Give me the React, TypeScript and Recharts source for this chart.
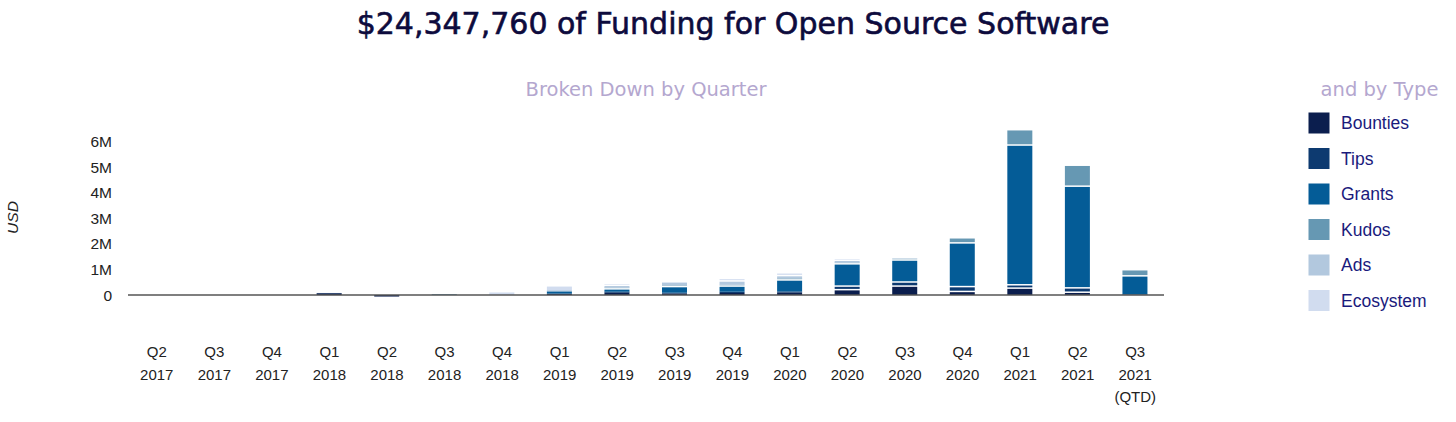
import React from 'react';
import { BarChart, Bar, XAxis, YAxis, ReferenceLine } from 'recharts';

const quarters = ['Q2', 'Q3', 'Q4', 'Q1', 'Q2', 'Q3', 'Q4', 'Q1', 'Q2', 'Q3', 'Q4', 'Q1', 'Q2', 'Q3', 'Q4', 'Q1', 'Q2', 'Q3'];
const years = ['2017', '2017', '2017', '2018', '2018', '2018', '2018', '2019', '2019', '2019', '2019', '2020', '2020', '2020', '2020', '2021', '2021', '2021'];
const notes = ['', '', '', '', '', '', '', '', '', '', '', '', '', '', '', '', '', '(QTD)'];

// values in USD
const bounties = [0, 0, 0, 70000, -60000, 0, 0, 40000, 90000, 60000, 80000, 100000, 240000, 380000, 170000, 300000, 140000, 10000];
const tips = [0, 0, 0, 10000, 0, 0, 0, 20000, 40000, 30000, 50000, 40000, 140000, 160000, 190000, 130000, 170000, 10000];
const grants = [0, 0, 0, 0, 0, 10000, 0, 80000, 140000, 270000, 250000, 480000, 870000, 860000, 1710000, 5470000, 3980000, 760000];
const kudos = [0, 0, 0, 0, 0, 30000, 0, 10000, 20000, 20000, 20000, 30000, 20000, 20000, 200000, 600000, 820000, 240000];
const ads = [0, 0, 0, 0, 0, 0, 20000, 40000, 120000, 100000, 180000, 140000, 120000, 10000, 0, 0, 0, 0];
const ecosystem = [0, 0, 0, 0, 0, 0, 80000, 200000, 20000, 20000, 40000, 50000, 20000, 0, 0, 0, 0, 0];

const yTicks = [0, 1000000, 2000000, 3000000, 4000000, 5000000, 6000000];

const seriesNames = ['Bounties', 'Tips', 'Grants', 'Kudos', 'Ads', 'Ecosystem'];
const seriesKeys = ['bounties', 'tips', 'grants', 'kudos', 'ads', 'ecosystem'];
const seriesColors = ['#0b1e4e', '#0d3a70', '#045c97', '#6698b3', '#b2c8de', '#d1dcef'];
const seriesValues = [bounties, tips, grants, kudos, ads, ecosystem];

const data = quarters.map((q, i) => {
  const row: Record<string, any> = { label: [q, years[i], notes[i]].filter(Boolean).join('\n') };
  seriesKeys.forEach((k, j) => {
    row[k] = seriesValues[j][i];
  });
  return row;
});

const GapBar = (props: any) => {
  const { x, y, width, height, fill } = props;
  let h = Number(height) || 0;
  let yy = Number(y) || 0;
  if (h < 0) {
    yy = yy + h;
    h = -h;
  }
  if (h <= 0) return null;
  const gap = h > 3 ? 1.5 : 0;
  return <rect x={x} y={yy + gap} width={width} height={h - gap} fill={fill} />;
};

const XTick = (props: any) => {
  const { x, y, payload } = props;
  const lines = String(payload.value).split('\n');
  return (
    <g>
      {lines.map((l, i) => (
        <text
          key={i}
          x={x}
          y={y + 18.6 + i * 22.5}
          textAnchor="middle"
          fontSize={15}
          fontFamily="Liberation Sans, Arial, sans-serif"
          fill="#222"
        >
          {l}
        </text>
      ))}
    </g>
  );
};

const fmt = (v: number) => (v === 0 ? '0' : `${v / 1000000}M`);

export default function App() {
  return (
    <div style={{ position: 'absolute', left: 0, top: 0, width: 1456, height: 422, background: '#fff' }}>
      <BarChart
        width={1456}
        height={422}
        data={data}
        stackOffset="sign"
        barSize={25}
        margin={{ top: 126.4, right: 292, bottom: 31.2, left: 68 }}
      >
        <XAxis dataKey="label" axisLine={false} tickLine={false} height={60} interval={0} tick={<XTick />} />
        <YAxis
          type="number"
          domain={[-1400000, 6600000]}
          ticks={yTicks}
          tickFormatter={fmt}
          axisLine={false}
          tickLine={false}
          width={60}
          tickMargin={10}
          tick={{ fontSize: 15.5, fill: '#222', fontFamily: 'Liberation Sans, Arial, sans-serif' }}
        />
        {seriesKeys.map((k, j) => (
          <Bar
            key={k}
            dataKey={k}
            name={seriesNames[j]}
            stackId="a"
            fill={seriesColors[j]}
            shape={<GapBar />}
            isAnimationActive={false}
          />
        ))}
        <ReferenceLine y={0} stroke="#555" strokeWidth={1.5} />
      </BarChart>
      <svg width={1456} height={422} style={{ position: 'absolute', left: 0, top: 0, pointerEvents: 'none' }}>
        <text
          x={733}
          y={33.5}
          textAnchor="middle"
          fontSize={30}
          fontFamily="DejaVu Sans, sans-serif"
          fill="#0d0b3d"
          stroke="#0d0b3d"
          strokeWidth={0.6}
        >
          $24,347,760 of Funding for Open Source Software
        </text>
        <text x={646} y={96} textAnchor="middle" fontSize={19.5} fontFamily="DejaVu Sans, sans-serif" fill="#b4a7cf">
          Broken Down by Quarter
        </text>
        <text x={1379.5} y={96} textAnchor="middle" fontSize={19.5} fontFamily="DejaVu Sans, sans-serif" fill="#b4a7cf">
          and by Type
        </text>
        <text
          x={18.3}
          y={217.5}
          textAnchor="middle"
          fontSize={15.5}
          fontStyle="italic"
          fontFamily="Liberation Sans, Arial, sans-serif"
          fill="#222"
          transform="rotate(-90 18.3 217.5)"
        >
          USD
        </text>
        {seriesNames.map((n, j) => {
          const cy = 123 + j * 35.5;
          return (
            <g key={n}>
              <rect x={1308.5} y={cy - 10.5} width={21} height={21} fill={seriesColors[j]} />
              <text x={1341} y={cy + 6.3} fontSize={17.5} fontFamily="Liberation Sans, Arial, sans-serif" fill="#1a1a7c">
                {n}
              </text>
            </g>
          );
        })}
      </svg>
    </div>
  );
}
